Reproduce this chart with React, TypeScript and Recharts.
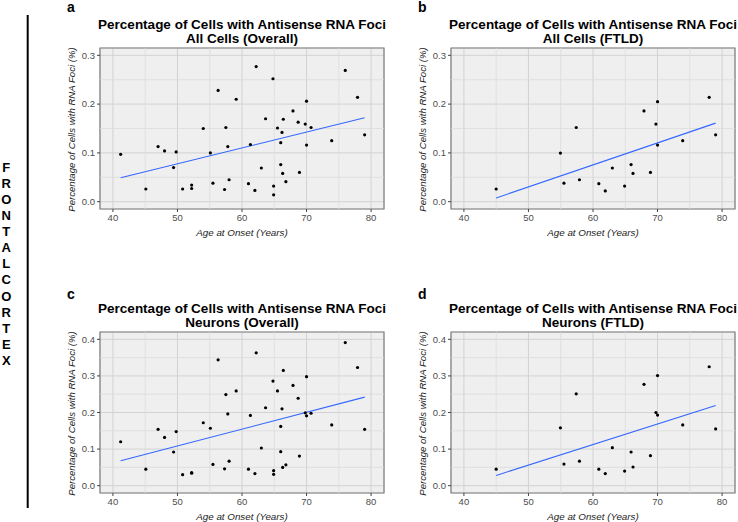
import React from 'react';
import { ScatterChart, Scatter, XAxis, YAxis, CartesianGrid, ReferenceLine, ReferenceArea } from 'recharts';

// all 45 cases, age at onset
const ageOverall = [41.2, 45.1, 47.0, 48.0, 49.4, 49.8, 50.8, 52.2, 52.2, 54.0, 55.1, 55.5, 56.3, 57.3, 57.5, 57.8, 58.0, 59.1, 61.0, 61.3, 62.0, 62.2, 63.0, 63.65, 64.8, 64.9, 64.9, 65.5, 66.0, 66.0, 66.2, 66.3, 66.4, 66.8, 67.9, 68.7, 68.9, 69.8, 70.0, 70.0, 70.7, 73.9, 76.0, 77.9, 79.0];
const cellsOverall = [0.097, 0.026, 0.113, 0.104, 0.070, 0.102, 0.026, 0.034, 0.027, 0.150, 0.100, 0.038, 0.228, 0.025, 0.152, 0.113, 0.045, 0.210, 0.037, 0.117, 0.023, 0.277, 0.069, 0.170, 0.252, 0.032, 0.014, 0.151, 0.076, 0.121, 0.142, 0.058, 0.169, 0.041, 0.186, 0.163, 0.060, 0.159, 0.206, 0.116, 0.152, 0.125, 0.269, 0.214, 0.137];
const neuronsOverall = [0.120, 0.045, 0.154, 0.132, 0.092, 0.148, 0.030, 0.036, 0.034, 0.172, 0.157, 0.058, 0.344, 0.046, 0.249, 0.196, 0.067, 0.259, 0.045, 0.192, 0.033, 0.363, 0.103, 0.213, 0.286, 0.041, 0.031, 0.259, 0.093, 0.162, 0.210, 0.050, 0.315, 0.057, 0.274, 0.239, 0.081, 0.199, 0.298, 0.191, 0.198, 0.166, 0.391, 0.323, 0.154];

// FTLD subset
const ageFtld = [45.0, 54.95, 55.5, 57.4, 57.9, 60.9, 61.9, 63.0, 64.9, 65.9, 66.2, 67.9, 68.9, 69.75, 70.0, 70.0, 73.9, 78.0, 79.0];
const cellsFtld = [0.026, 0.0996, 0.038, 0.152, 0.045, 0.037, 0.022, 0.069, 0.032, 0.076, 0.058, 0.186, 0.060, 0.159, 0.205, 0.116, 0.125, 0.214, 0.137];
const neuronsFtld = [0.045, 0.158, 0.059, 0.251, 0.067, 0.045, 0.033, 0.104, 0.040, 0.092, 0.051, 0.277, 0.082, 0.200, 0.301, 0.193, 0.166, 0.325, 0.155];

// regression line ends
const fitCellsOverall = { x: [41.2, 79], y: [0.049, 0.172] };
const fitCellsFtld = { x: [45, 79], y: [0.0076, 0.161] };
const fitNeuronsOverall = { x: [41.2, 79], y: [0.068, 0.242] };
const fitNeuronsFtld = { x: [45, 79], y: [0.028, 0.219] };

const xTicks = [40, 50, 60, 70, 80];
const xMinor = [45, 55, 65, 75];
const cellTicks = [0, 0.1, 0.2, 0.3];
const cellMinor = [0.05, 0.15, 0.25];
const neuronTicks = [0, 0.1, 0.2, 0.3, 0.4];
const neuronMinor = [0.05, 0.15, 0.25, 0.35];

const mainTitle = 'Percentage of Cells with Antisense RNA Foci';
const subtitles = ['All Cells (Overall)', 'All Cells (FTLD)', 'Neurons (Overall)', 'Neurons (FTLD)'];
const panelLetters = ['a', 'b', 'c', 'd'];
const xLabel = 'Age at Onset (Years)';
const yLabel = 'Percentage of Cells with RNA Foci (%)';
const regionLabel = 'FRONTAL CORTEX';

const FONT = '"Liberation Sans", Arial, Helvetica, sans-serif';
const PLOT_W = 284;
const PLOT_H = 161;
const X_DOMAIN = [38, 82];

const Dot = (props: any) => <circle cx={props.cx} cy={props.cy} r={1.6} fill="#000" />;

const Panel = ({ left, top, ages, values, fit, yDomain, yTicks, yMinor }: any) => {
  const data = ages.map((age: number, i: number) => ({ age, value: values[i] }));
  const tickStyle = { fontSize: 9.5, fill: '#4D4D4D', fontFamily: FONT };
  return (
    <div style={{ position: 'absolute', left: left - 40, top: top - 10 }}>
      <ScatterChart width={40 + PLOT_W + 6} height={10 + PLOT_H + 30} margin={{ top: 10, right: 6, bottom: 0, left: 0 }}>
        <CartesianGrid fill="#EFEFEF" stroke="#D2D2D2" />
        <XAxis type="number" dataKey="age" domain={X_DOMAIN} ticks={xTicks} interval={0} allowDataOverflow
          axisLine={false} tickSize={3} tickLine={{ stroke: '#444' }} tick={tickStyle} height={30} />
        <YAxis type="number" dataKey="value" domain={yDomain} ticks={yTicks} interval={0} allowDataOverflow
          axisLine={false} tickSize={3} tickLine={{ stroke: '#444' }} tick={tickStyle} width={40}
          tickFormatter={(v: number) => v.toFixed(1)} />
        {xMinor.map(v => <ReferenceLine key={'x' + v} x={v} stroke="#DCDCDC" strokeWidth={0.8} />)}
        {yMinor.map((v: number) => <ReferenceLine key={'y' + v} y={v} stroke="#DCDCDC" strokeWidth={0.8} />)}
        <ReferenceArea x1={X_DOMAIN[0]} x2={X_DOMAIN[1]} y1={yDomain[0]} y2={yDomain[1]} fill="none" stroke="#808080" strokeWidth={1.2} />
        <ReferenceLine segment={[{ x: fit.x[0], y: fit.y[0] }, { x: fit.x[1], y: fit.y[1] }]} stroke="#3366FF" strokeWidth={1.1} />
        <Scatter data={data} shape={Dot} isAnimationActive={false} />
      </ScatterChart>
    </div>
  );
};

const panels = [
  { left: 100, top: 48, ages: ageOverall, values: cellsOverall, fit: fitCellsOverall, yDomain: [-0.015, 0.315], yTicks: cellTicks, yMinor: cellMinor, letterY: 12 },
  { left: 451, top: 48, ages: ageFtld, values: cellsFtld, fit: fitCellsFtld, yDomain: [-0.015, 0.315], yTicks: cellTicks, yMinor: cellMinor, letterY: 12 },
  { left: 100, top: 332, ages: ageOverall, values: neuronsOverall, fit: fitNeuronsOverall, yDomain: [-0.02, 0.42], yTicks: neuronTicks, yMinor: neuronMinor, letterY: 298.5 },
  { left: 451, top: 332, ages: ageFtld, values: neuronsFtld, fit: fitNeuronsFtld, yDomain: [-0.02, 0.42], yTicks: neuronTicks, yMinor: neuronMinor, letterY: 298.5 },
];

export default function App() {
  const letters = regionLabel.replace(' ', '').split('');
  return (
    <div style={{ position: 'absolute', left: 0, top: 0, width: 738, height: 522, background: '#fff', overflow: 'hidden' }}>
      {panels.map((p, i) => <Panel key={i} {...p} />)}
      <svg width={738} height={522} style={{ position: 'absolute', left: 0, top: 0, pointerEvents: 'none' }} fontFamily={FONT}>
        <line x1={27.7} y1={15} x2={27.7} y2={508} stroke="#000" strokeWidth={2} />
        <text fontSize={13} fontWeight="bold" textAnchor="middle" fill="#000">
          {letters.map((c, i) => <tspan key={i} x={6.3} y={171.7 + i * 16.1}>{c}</tspan>)}
        </text>
        {panels.map((p, i) => {
          const cx = p.left + PLOT_W / 2;
          const cy = p.top + PLOT_H / 2;
          return (
            <g key={i}>
              <text x={p.left - 33} y={p.letterY} fontSize={14} fontWeight="bold" fill="#000">{panelLetters[i]}</text>
              <text x={cx} y={p.top - 19} fontSize={13.5} fontWeight="bold" textAnchor="middle" fill="#000">{mainTitle}</text>
              <text x={cx} y={p.top - 5.5} fontSize={13.5} fontWeight="bold" textAnchor="middle" fill="#000">{subtitles[i]}</text>
              <text x={cx} y={p.top + PLOT_H + 26.5} fontSize={9.8} fontStyle="italic" textAnchor="middle" fill="#222">{xLabel}</text>
              <text transform={`translate(${p.left - 25.5},${cy + 1}) rotate(-90)`} fontSize={9.6} fontStyle="italic" textAnchor="middle" fill="#222">{yLabel}</text>
            </g>
          );
        })}
      </svg>
    </div>
  );
}
